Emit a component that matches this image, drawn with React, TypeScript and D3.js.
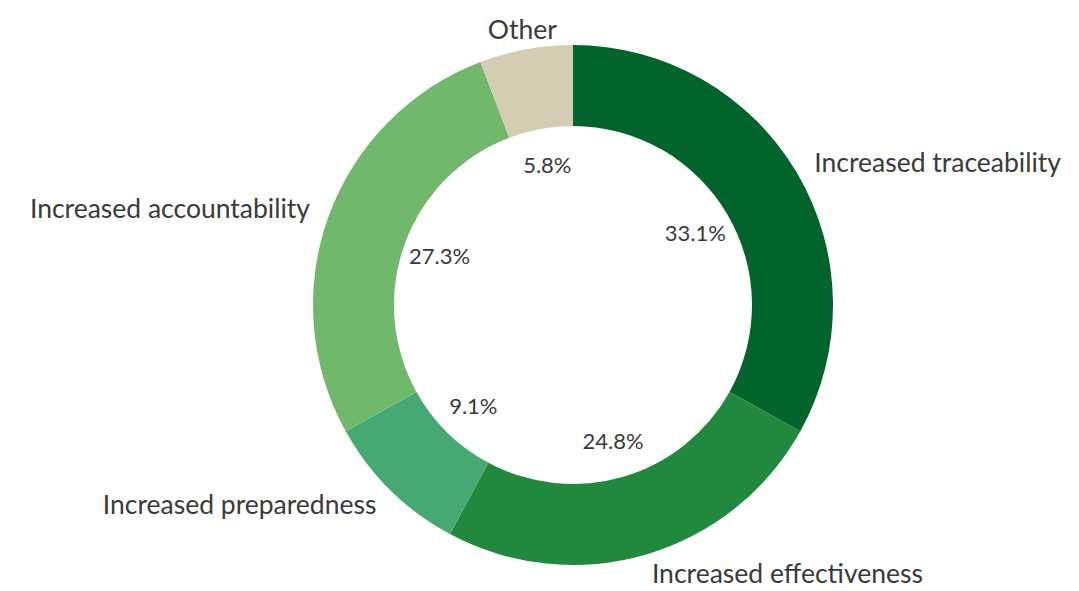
import React from "react";
import * as d3 from "d3";

const categories = [
  "Increased traceability",
  "Increased effectiveness",
  "Increased preparedness",
  "Increased accountability",
  "Other",
];
const values = [33.1, 24.8, 9.1, 27.3, 5.8];
const percentLabels = ["33.1%", "24.8%", "9.1%", "27.3%", "5.8%"];
const colors = ["#00642b", "#21893e", "#46a872", "#70b96c", "#d4cdb1"];

const W = 1079;
const H = 591;
const CX = 573;
const CY = 305;
const R_OUT = 260;
const R_IN = 179;

export default function App() {
  const data = categories.map((c, i) => ({ name: c, value: values[i], label: percentLabels[i], color: colors[i] }));
  const pie = d3.pie<any>().value((d: any) => d.value).sort(null);
  const arcs = pie(data);
  const arc = d3.arc<any>().innerRadius(R_IN).outerRadius(R_OUT);
  const inner = d3.arc<any>().innerRadius(142).outerRadius(142);
  const outer = d3.arc<any>().innerRadius(280).outerRadius(280);

  return (
    <svg width={W} height={H} style={{ position: "absolute", left: 0, top: 0, background: "#fff" }}
      fontFamily="Lato, 'Noto Sans', sans-serif">
      <g transform={`translate(${CX},${CY})`}>
        {arcs.map((a, i) => (
          <path key={i} d={arc(a) as string} fill={a.data.color} />
        ))}
        {arcs.map((a, i) => {
          const [x, y] = inner.centroid(a);
          return (
            <text key={"p" + i} x={x} y={y} dy="0.35em" textAnchor="middle" fontSize={22} fill="#3a3a3a">
              {a.data.label}
            </text>
          );
        })}
        {arcs.map((a, i) => {
          const [x, y] = outer.centroid(a);
          const mid = (a.startAngle + a.endAngle) / 2;
          const s = Math.sin(mid);
          const anchor = s > 0.1 ? "start" : s < -0.3 ? "end" : "middle";
          return (
            <text key={"o" + i} x={x} y={y} dy="0.35em" textAnchor={anchor} fontSize={26.5} fill="#3a3a3a">
              {a.data.name}
            </text>
          );
        })}
      </g>
    </svg>
  );
}
